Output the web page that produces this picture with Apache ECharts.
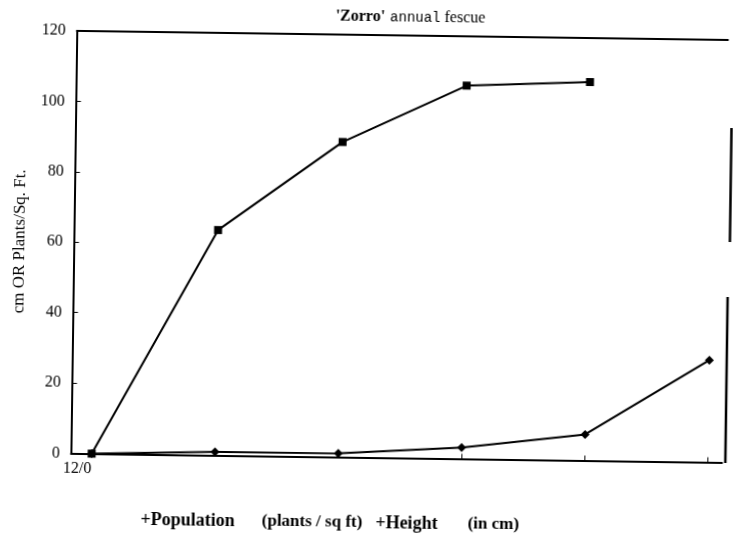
<!DOCTYPE html>
<html>
<head>
<meta charset="utf-8">
<script src="https://cdn.jsdelivr.net/npm/echarts@6/dist/echarts.min.js"></script>
<style>
  html, body { margin: 0; padding: 0; background: #fff; }
  /* the scanned figure is tilted a little clockwise */
  #chart { width: 739px; height: 537px; transform: rotate(0.8deg); }
</style>
</head>
<body>
<div id="chart"></div>
<script>
// sample dates (only the first one is labelled), 0..5
const xPoints = [0, 1, 2, 3, 4, 5];
const xLabels = ["12/0"];
const population = [0, 64, 89.5, 106, 107.5];
const height = [0, 1, 1.1, 3.2, 7.4, 29];
const yTicks = [0, 20, 40, 60, 80, 100, 120];

const serif = "Liberation Serif";
const chart = echarts.init(document.getElementById("chart"));

const pairs = (vals) => vals.map((v, i) => [xPoints[i], v]);

const option = {
  backgroundColor: "#fff",
  animation: false,
  title: {
    text: "{z|'Zorro'} {a|annual}{f| fescue}",
    left: 402,
    top: 3,
    textAlign: "center",
    textStyle: {
      rich: {
        z: { fontFamily: serif, fontWeight: "bold", fontSize: 16, color: "#000" },
        a: { fontFamily: "Liberation Mono", fontWeight: "normal", fontSize: 14, color: "#000" },
        f: { fontFamily: serif, fontWeight: "normal", fontSize: 16, color: "#000" }
      }
    }
  },
  legend: {
    left: 134,
    top: 509,
    icon: "none",
    itemWidth: 0,
    itemGap: 8,
    data: ["Population", "Height"],
    formatter: function(name) {
      return name === "Population"
        ? "{b|+Population}{g1|}{n|(plants / sq ft)}"
        : "{b|+Height}{g2|}{n|(in cm)}";
    },
    textStyle: {
      rich: {
        b: { fontFamily: serif, fontWeight: "bold", fontSize: 18, color: "#000" },
        n: { fontFamily: serif, fontWeight: "bold", fontSize: 17, color: "#000" },
        g1: { width: 27 },
        g2: { width: 30 }
      }
    }
  },
  grid: {
    left: 73.6,
    right: 14.3,
    top: 35,
    bottom: 79.5,
    containLabel: false
  },
  xAxis: [
    {
      type: "value",
      min: -0.168,
      max: 5.114,
      splitLine: { show: false },
      axisLine: { show: true, onZero: false, lineStyle: { color: "#000", width: 2 } },
      axisTick: {
        show: true,
        inside: true,
        length: 5,
        customValues: [1, 2, 3, 4, 5],
        lineStyle: { color: "#000", width: 1 }
      },
      axisLabel: {
        customValues: [0],
        formatter: () => xLabels[0],
        align: "right",
        margin: 7,
        fontFamily: serif,
        fontSize: 16,
        color: "#000"
      }
    },
    {
      type: "value",
      position: "top",
      min: -0.168,
      max: 5.114,
      splitLine: { show: false },
      axisLine: { show: true, onZero: false, lineStyle: { color: "#000", width: 2 } },
      axisTick: { show: false },
      axisLabel: { show: false }
    }
  ],
  yAxis: {
    type: "value",
    min: yTicks[0],
    max: yTicks[yTicks.length - 1],
    interval: 20,
    name: "cm OR Plants/Sq. Ft.",
    nameLocation: "middle",
    nameGap: 42,
    nameTextStyle: { fontFamily: serif, fontSize: 17, color: "#000" },
    splitLine: { show: false },
    axisLine: { show: true, onZero: false, lineStyle: { color: "#000", width: 2 } },
    axisTick: { show: true, inside: true, length: 5, lineStyle: { color: "#000", width: 1 } },
    axisLabel: { margin: 11, fontFamily: serif, fontSize: 16, color: "#000" }
  },
  graphic: [
    // broken right-hand frame of the scan
    { type: "line", shape: { x1: 729.5, y1: 123, x2: 729.5, y2: 237 }, style: { stroke: "#000", lineWidth: 2.5 } },
    { type: "line", shape: { x1: 728, y1: 292, x2: 728, y2: 458 }, style: { stroke: "#000", lineWidth: 2.5 } }
  ],
  series: [
    {
      name: "Population",
      type: "line",
      data: pairs(population),
      symbol: "rect",
      symbolSize: 8,
      showSymbol: true,
      itemStyle: { color: "#000" },
      lineStyle: { color: "#000", width: 2 }
    },
    {
      name: "Height",
      type: "line",
      data: pairs(height),
      symbol: "diamond",
      symbolSize: 9,
      showSymbol: true,
      itemStyle: { color: "#000" },
      lineStyle: { color: "#000", width: 2 }
    }
  ]
};

chart.setOption(option);
</script>
</body>
</html>
